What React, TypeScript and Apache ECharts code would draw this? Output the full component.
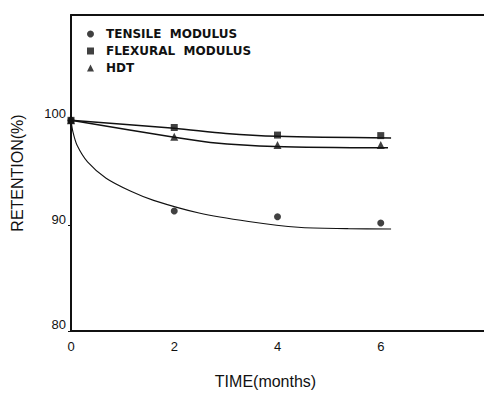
import React, { useEffect, useRef } from "react";
import * as echarts from "echarts";

// Measured data points (months, retention %)
const tensilePoints: [number, number][] = [[0, 100], [2, 91.4], [4, 90.85], [6, 90.25]];
const flexuralPoints: [number, number][] = [[0, 100], [2, 99.32], [4, 98.6], [6, 98.55]];
const hdtPoints: [number, number][] = [[0, 100], [2, 98.45], [4, 97.67], [6, 97.67]];

// Fitted curves
const tensileCurve: [number, number][] = [
  [0, 100], [0.04, 98.85], [0.12, 97.6], [0.32, 96.05], [0.68, 94.5], [1.16, 93.26],
  [1.6, 92.4], [2.48, 91.2], [3.44, 90.4], [4.4, 89.85], [5.37, 89.72], [6.2, 89.68],
];
const flexuralCurve: [number, number][] = [
  [0, 100], [2, 99.25], [3, 98.75], [4, 98.48], [6.2, 98.32],
];
const hdtCurve: [number, number][] = [
  [0, 100], [2, 98.39], [2.7, 97.9], [3.95, 97.52], [6.14, 97.39],
];

const seriesNames = ["TENSILE  MODULUS", "FLEXURAL  MODULUS", "HDT"];
const legendIcons = ["circle", "rect", "triangle"];
const xTicks = { min: 0, max: 8, interval: 2 };
const yTicks = { min: 80, max: 110, interval: 10 };

const INK = "#111";
const FONT = "'Liberation Sans', Arial, sans-serif";

export default function App() {
  const ref = useRef<HTMLDivElement>(null);
  useEffect(() => {
    if (!ref.current) return;
    const chart = echarts.init(ref.current, undefined, { renderer: "svg" });
    const lineSeries = (data: [number, number][], width: number) => ({
      type: "line",
      data,
      smooth: 0.3,
      showSymbol: false,
      symbol: "none",
      silent: true,
      lineStyle: { color: INK, width },
      z: 2,
    });
    chart.setOption({
      animation: false,
      backgroundColor: "#fff",
      grid: { left: 71, top: 15, width: 416, bottom: 57 },
      legend: {
        data: seriesNames.map((name, i) => ({ name, icon: legendIcons[i] })),
        orient: "vertical",
        left: 82,
        top: 23,
        itemWidth: 7,
        itemHeight: 7,
        itemGap: 5,
        textStyle: {
          fontFamily: "'DejaVu Sans', Verdana, sans-serif",
          fontWeight: "bold",
          fontSize: 12,
          color: INK,
          padding: [0, 0, 0, 7],
        },
        selectedMode: false,
      },
      xAxis: [
        {
          type: "value",
          min: xTicks.min,
          max: xTicks.max,
          interval: xTicks.interval,
          name: "TIME(months)",
          nameLocation: "middle",
          nameGap: 42,
          nameTextStyle: { fontFamily: FONT, fontSize: 16, color: INK, padding: [0, 24, 0, 0] },
          axisLine: { lineStyle: { color: INK, width: 2 } },
          axisTick: { show: false },
          splitLine: { show: false },
          axisLabel: { fontFamily: FONT, fontSize: 13, color: INK, margin: 9, showMaxLabel: false },
        },
        {
          type: "value",
          position: "top",
          min: xTicks.min,
          max: xTicks.max,
          axisLine: { show: true, lineStyle: { color: INK, width: 2 } },
          axisTick: { show: false },
          axisLabel: { show: false },
          splitLine: { show: false },
        },
      ],
      yAxis: {
        type: "value",
        min: yTicks.min,
        max: yTicks.max,
        interval: yTicks.interval,
        name: "RETENTION(%)",
        nameLocation: "middle",
        nameGap: 46,
        nameRotate: 90,
        nameTextStyle: { fontFamily: FONT, fontSize: 16, color: INK },
        axisLine: { show: true, lineStyle: { color: INK, width: 2 } },
        axisTick: { show: true, length: 3, lineStyle: { color: INK } },
        splitLine: { show: false },
        axisLabel: {
          fontFamily: FONT,
          fontSize: 13,
          color: INK,
          margin: 5,
          verticalAlign: "bottom",
          showMaxLabel: false,
        },
      },
      series: [
        lineSeries(tensileCurve, 1.1),
        lineSeries(flexuralCurve, 1.5),
        lineSeries(hdtCurve, 1.5),
        {
          type: "scatter",
          name: seriesNames[0],
          data: tensilePoints,
          symbol: "circle",
          symbolSize: 7,
          itemStyle: { color: INK },
          z: 3,
        },
        {
          type: "scatter",
          name: seriesNames[1],
          data: flexuralPoints,
          symbol: "rect",
          symbolSize: 7,
          itemStyle: { color: INK },
          z: 3,
        },
        {
          type: "scatter",
          name: seriesNames[2],
          data: hdtPoints,
          symbol: "triangle",
          symbolSize: 8,
          itemStyle: { color: INK },
          z: 3,
        },
      ],
    });
    return () => chart.dispose();
  }, []);
  return (
    <div
      ref={ref}
      style={{ position: "absolute", left: 0, top: 0, width: 484, height: 394 }}
    />
  );
}
